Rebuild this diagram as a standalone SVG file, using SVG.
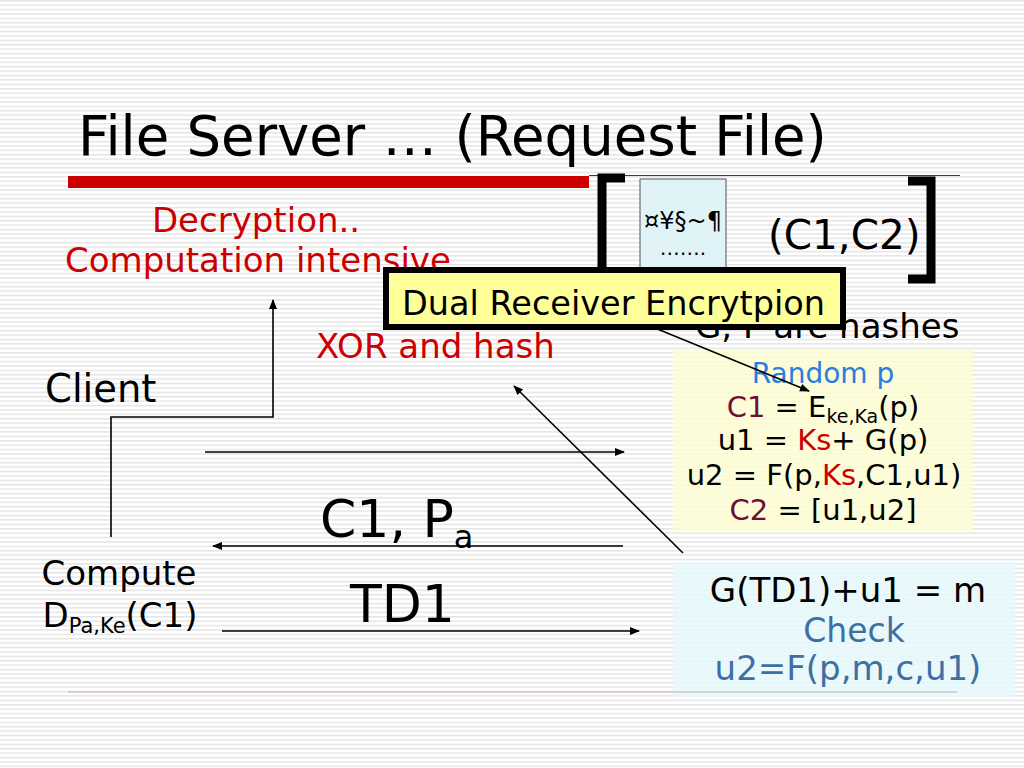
<svg xmlns="http://www.w3.org/2000/svg" width="1024" height="768" viewBox="0 0 1024 768">
  <defs>
    <pattern id="stripes" x="0" y="0" width="8" height="4.4" patternUnits="userSpaceOnUse">
      <rect x="0" y="0" width="8" height="1.4" fill="#e3e3e3"/>
    </pattern>
    <marker id="arr" viewBox="0 0 10 10" refX="9" refY="5" markerWidth="10" markerHeight="10" markerUnits="userSpaceOnUse" orient="auto">
      <path d="M0,1 L10,5 L0,9 Z" fill="#000"/>
    </marker>
  </defs>
  <style>
    text { font-family: "DejaVu Sans", Verdana, sans-serif; fill: #000; }
    .red { fill: #cc0000; }
    .maroon { fill: #6b1030; }
    .blue { fill: #2a7de1; }
    .steel { fill: #3d6fa3; }
    .conn { stroke: #000; stroke-width: 1.6; fill: none; }
  </style>

  <rect width="1024" height="768" fill="#ffffff"/>
  <rect width="1024" height="768" fill="url(#stripes)"/>

  <g id="title">
    <text x="78" y="155" font-size="54.5">File Server … (Request File)</text>
    <rect x="68" y="176" width="521" height="12" fill="#cc0000"/>
    <line x1="589" y1="175.5" x2="960" y2="175.5" stroke="#cc0000" stroke-width="1.2"/>
  </g>

  <g id="cipher">
    <path d="M625,178 L602,178 L602,290 L625,290" fill="none" stroke="#000" stroke-width="9"/>
    <path d="M908,181 L931,181 L931,279 L908,279" fill="none" stroke="#000" stroke-width="9"/>
    <rect x="640" y="179" width="86" height="100" fill="#e0f4f8" stroke="#555" stroke-width="1"/>
    <text x="683" y="229" font-size="24" text-anchor="middle">¤¥§~¶</text>
    <text x="683" y="255" font-size="20" text-anchor="middle">…….</text>
    <text x="768" y="249" font-size="40.5">(C1,C2)</text>
  </g>

  <g id="decryption-note">
    <text x="256" y="232" font-size="34" text-anchor="middle" class="red">Decryption..</text>
    <text x="65" y="272" font-size="34" class="red">Computation intensive</text>
  </g>

  <g id="xor-note">
    <text x="316" y="358" font-size="34" class="red">XOR and hash</text>
  </g>

  <g id="hashes-note">
    <text x="695" y="338" font-size="34">G, F are hashes</text>
  </g>

  <g id="client">
    <text x="45" y="402" font-size="38.5">Client</text>
  </g>

  <g id="server-encrypt">
    <rect x="673" y="349" width="300" height="182" fill="#fdfdd2" fill-opacity="0.85"/>
    <text x="823" y="383" font-size="28" text-anchor="middle" class="blue">Random p</text>
    <text x="823" y="417" font-size="29" text-anchor="middle"><tspan class="maroon">C1</tspan> = E<tspan font-size="19" dy="6">ke,Ka</tspan><tspan dy="-6">(p)</tspan></text>
    <text x="823" y="450" font-size="29" text-anchor="middle">u1 = <tspan class="red">Ks</tspan>+ G(p)</text>
    <text x="824" y="485" font-size="29" text-anchor="middle">u2 = F(p,<tspan class="red">Ks</tspan>,C1,u1)</text>
    <text x="823" y="520" font-size="29" text-anchor="middle"><tspan class="maroon">C2</tspan> = [u1,u2]</text>
  </g>

  <g id="c1pa-label">
    <text x="320" y="537" font-size="52">C1, P<tspan font-size="32" dy="11">a</tspan></text>
  </g>

  <g id="td1-label">
    <text x="350" y="622" font-size="52">TD1</text>
  </g>

  <g id="compute">
    <text x="119" y="585" font-size="34" text-anchor="middle">Compute</text>
    <text x="120" y="627" font-size="34" text-anchor="middle">D<tspan font-size="21" dy="6">Pa,Ke</tspan><tspan dy="-6">(C1)</tspan></text>
  </g>

  <g id="server-check">
    <rect x="673" y="562" width="342" height="135" fill="#e6f9fb" fill-opacity="0.85"/>
    <text x="848" y="602" font-size="34" text-anchor="middle">G(TD1)+u1 = m</text>
    <text x="854" y="642" font-size="33" text-anchor="middle" class="steel">Check</text>
    <text x="848" y="680" font-size="34" text-anchor="middle" class="steel">u2=F(p,m,c,u1)</text>
  </g>

  <g id="footer-rule">
    <line x1="68" y1="692" x2="957" y2="692" stroke="#cfa8a8" stroke-width="1.2"/>
  </g>

  <g id="connectors">
    <polyline class="conn" points="111,537 111,417 273,417 273,300" marker-end="url(#arr)"/>
    <line class="conn" x1="205" y1="452" x2="624" y2="452" marker-end="url(#arr)"/>
    <line class="conn" x1="623" y1="546" x2="213" y2="546" marker-end="url(#arr)"/>
    <line class="conn" x1="222" y1="631" x2="639" y2="631" marker-end="url(#arr)"/>
    <line class="conn" x1="683" y1="553" x2="514" y2="386" marker-end="url(#arr)"/>
  </g>

  <g id="dual-receiver">
    <rect x="386" y="270" width="457" height="57" fill="#ffff99" stroke="#000" stroke-width="6"/>
    <text x="402" y="315" font-size="33.5">Dual Receiver Encrytpion</text>
  </g>

  <g id="dual-arrow">
    <line class="conn" x1="650" y1="326" x2="809" y2="391" marker-end="url(#arr)"/>
  </g>
</svg>
